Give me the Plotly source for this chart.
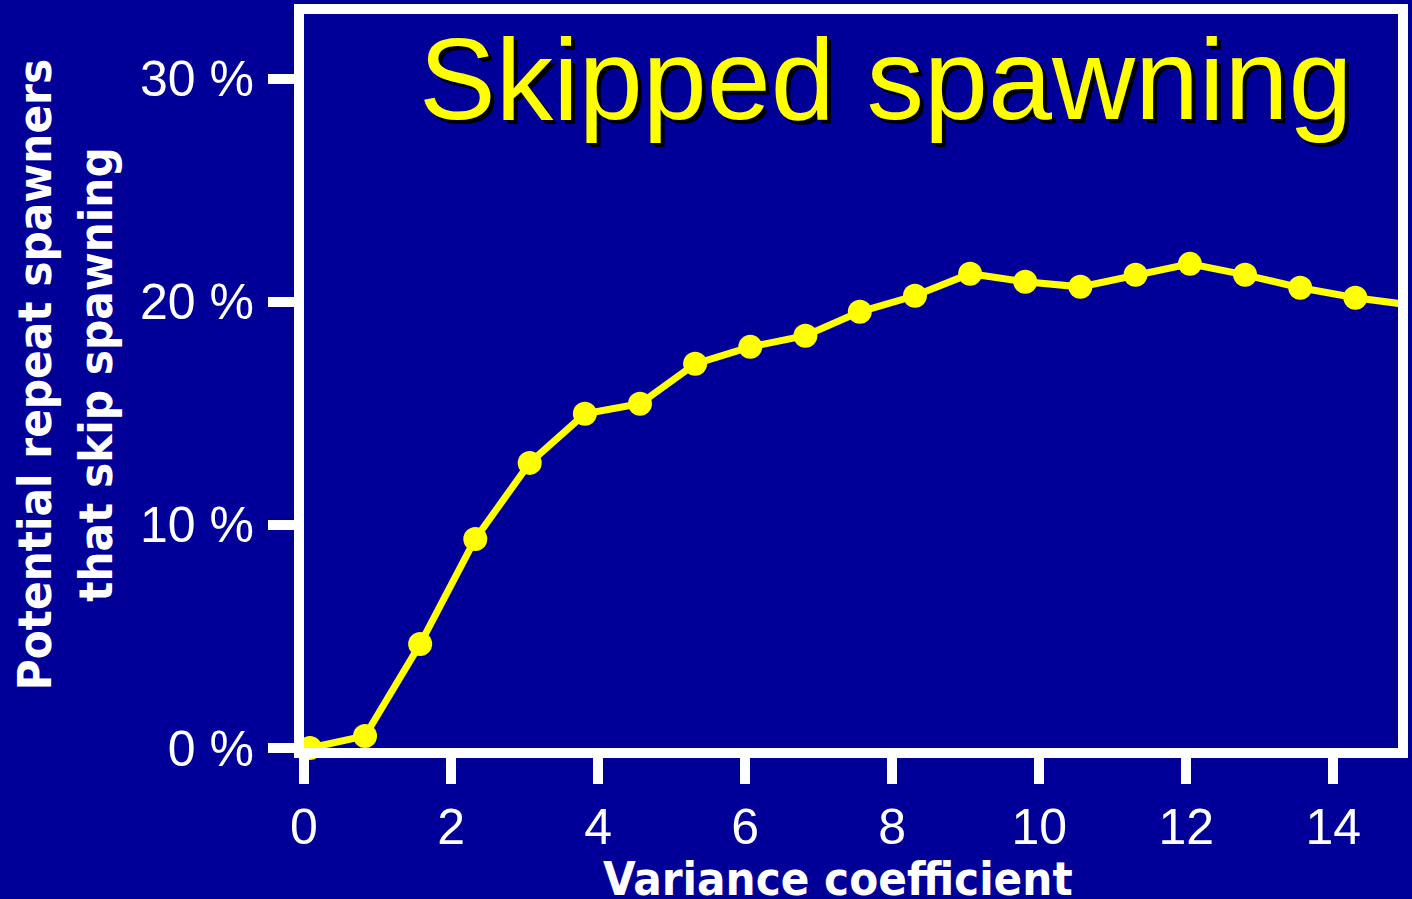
import plotly.graph_objects as go

# Data
variance_coef = [0.08, 0.83, 1.58, 2.33, 3.07, 3.82, 4.57, 5.32, 6.07, 6.82, 7.56,
                 8.31, 9.06, 9.81, 10.56, 11.31, 12.05, 12.80, 13.55, 14.30, 15.02]
skip_pct = [0.0, 0.54, 4.66, 9.37, 12.78, 14.98, 15.43, 17.22, 17.98, 18.48, 19.55,
            20.27, 21.26, 20.90, 20.67, 21.21, 21.70, 21.21, 20.63, 20.18, 19.87]
x_ticks = [0, 2, 4, 6, 8, 10, 12, 14]
y_ticks = [0, 10, 20, 30]
y_tick_labels = ["0 %", "10 %", "20 %", "30 %"]
title_text = "Skipped spawning"
x_title = "Variance coefficient"
y_title = "Potential repeat spawners<br>that skip spawning"

BG = "#000099"
W, H = 1412, 899
L, R, T, B = 304, 4, 14, 151
PW, PH = W - L - R, H - T - B

fig = go.Figure()
fig.add_trace(go.Scatter(
    x=variance_coef, y=skip_pct, mode="lines+markers",
    line=dict(color="#FFFF00", width=7),
    marker=dict(color="#FFFF00", size=24),
    cliponaxis=False, showlegend=False, hoverinfo="skip",
))

axis_common = dict(
    showgrid=False, zeroline=False, showline=True, linecolor="white", linewidth=10,
    ticks="outside", ticklen=26, tickwidth=10, tickcolor="white",
    tickfont=dict(family="Liberation Sans, Arial", size=50, color="white"),
)
fig.update_xaxes(range=[0, 14.88], tickvals=x_ticks, mirror=True, **axis_common)
fig.update_yaxes(range=[0, 32.9], tickvals=y_ticks, ticktext=y_tick_labels, mirror=True,
                 ticklabelstandoff=4, **axis_common)

title_font_shadow = dict(family="Liberation Sans, Arial", size=115, color="black")
title_font = dict(family="Liberation Sans, Arial", size=115, color="#FFFF00")
tx = (891 - L) / PW
ty = (748 - 79) / PH
fig.add_annotation(text=title_text, xref="paper", yref="paper", x=tx, y=ty,
                   xanchor="center", yanchor="middle", showarrow=False,
                   font=title_font_shadow, xshift=4, yshift=-4)
fig.add_annotation(text=title_text, xref="paper", yref="paper", x=tx, y=ty,
                   xanchor="center", yanchor="middle", showarrow=False, font=title_font)

lab_font = dict(family="DejaVu Sans Condensed, DejaVu Sans", size=47, color="white")
fig.add_annotation(text="<b>" + x_title + "</b>", xref="paper", yref="paper",
                   x=(843 - L) / PW, y=(748 - 879) / PH,
                   xanchor="center", yanchor="middle", showarrow=False, font=lab_font)
fig.add_annotation(text="<b>" + y_title + "</b>", xref="paper", yref="paper",
                   x=(63 - L) / PW, y=(748 - 375) / PH,
                   xanchor="center", yanchor="middle", showarrow=False, textangle=-90,
                   font=lab_font)

fig.update_layout(
    width=W, height=H, margin=dict(l=L, r=R, t=T, b=B),
    paper_bgcolor=BG, plot_bgcolor=BG,
)
fig.write_html(
    "out.html",
    config={"displayModeBar": False},
    post_script="document.body.style.margin='0';document.body.style.background='" + BG + "';",
)
